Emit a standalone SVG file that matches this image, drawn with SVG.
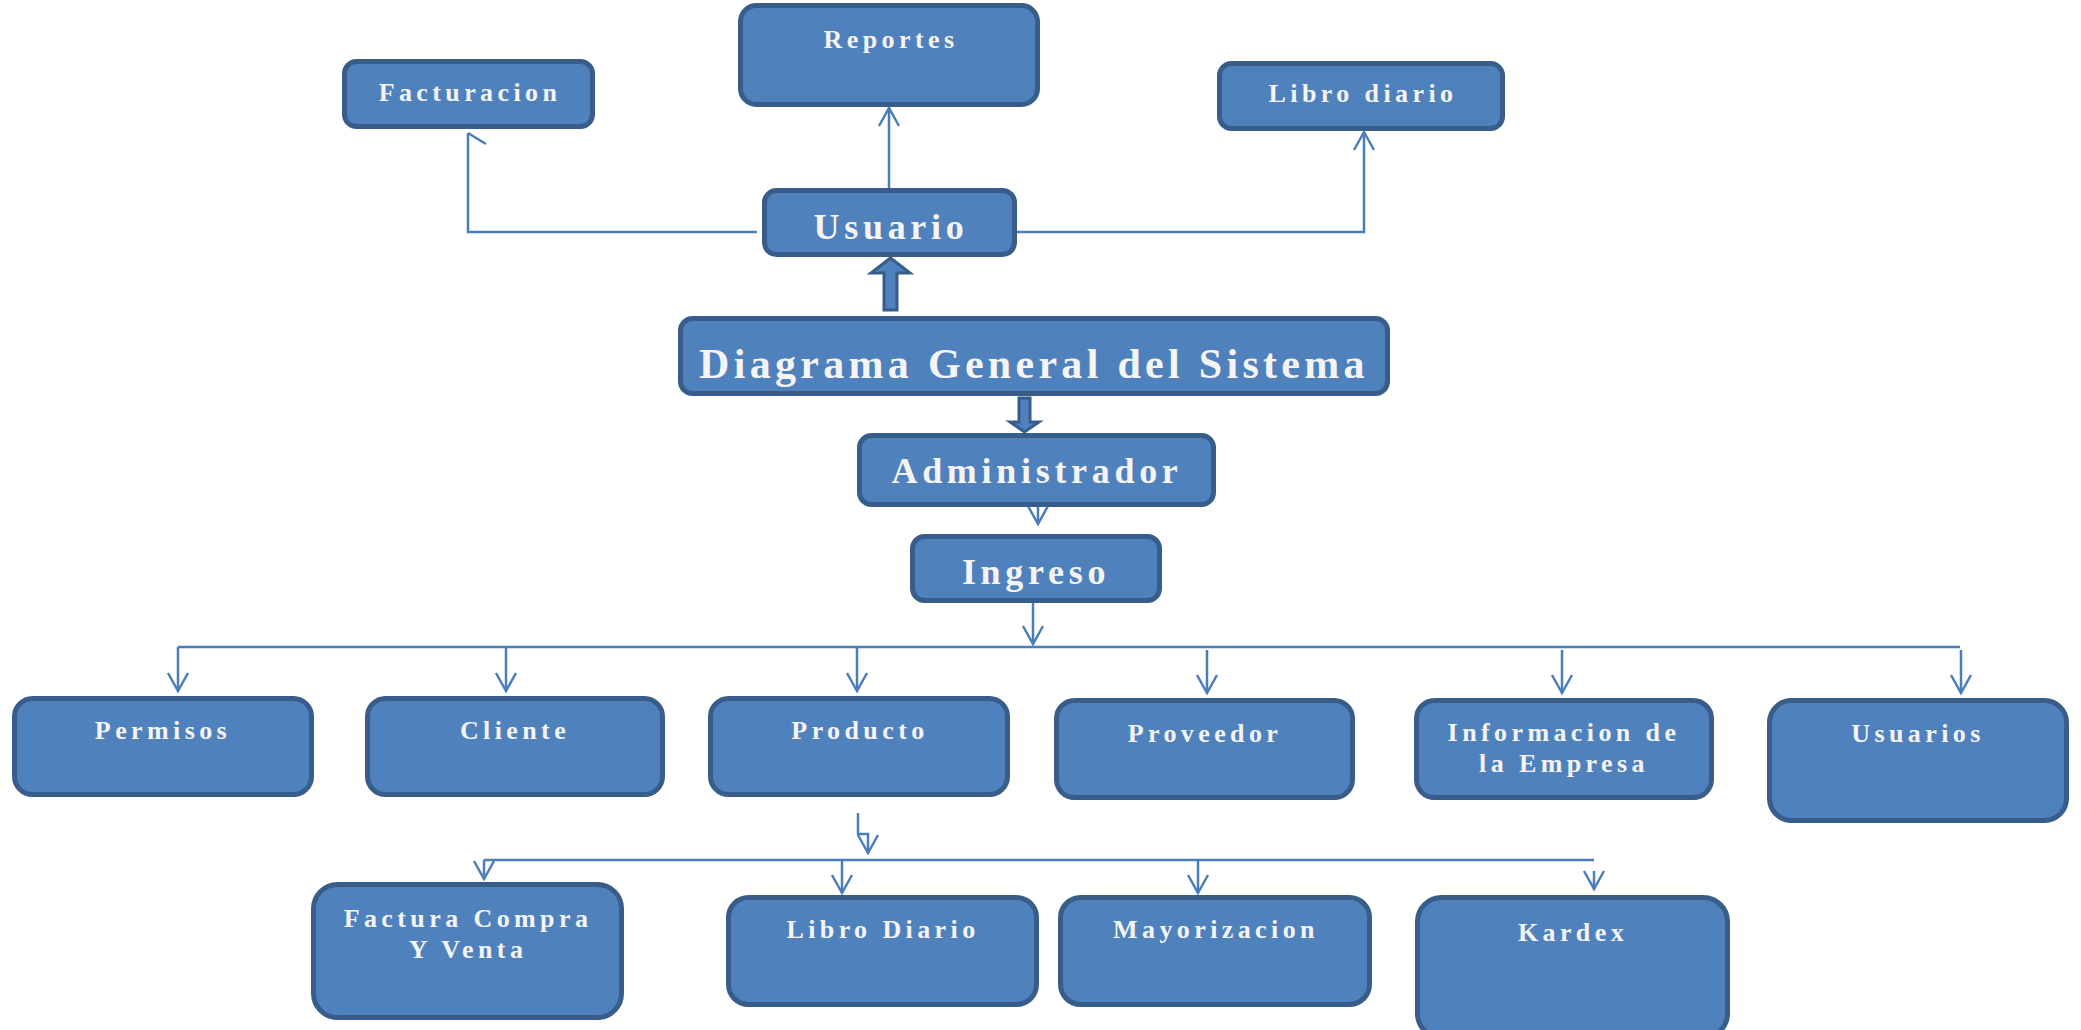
<svg xmlns="http://www.w3.org/2000/svg" width="2081" height="1030" viewBox="0 0 2081 1030">
<style>
.box{fill:#4F81BD;stroke:#385D8A;stroke-width:5}
.blk{fill:#4F81BD;stroke:#385D8A;stroke-width:3;stroke-linejoin:miter}
.t{font-family:"Liberation Serif","Times New Roman",serif;font-weight:bold;fill:#F4F4F4;text-anchor:middle}
.s{font-size:26px;letter-spacing:4.4px}
.m{font-size:36px;letter-spacing:4.7px}
.l{font-size:42px;letter-spacing:4.3px}
.c{fill:none;stroke:#4A7EBB;stroke-width:2.5}
</style>
<defs>
<marker id="ah" markerUnits="userSpaceOnUse" viewBox="-20 -12 22 24" markerWidth="22" markerHeight="24" refX="0" refY="0" orient="auto" overflow="visible">
<path d="M-18,-10 L0,0 L-18,10" fill="none" stroke="#4A7EBB" stroke-width="2.5"/>
</marker>
</defs>
<rect width="2081" height="1030" fill="#FFFFFF"/>
<g id="connectors">
<path class="c" d="M757,232 H468 V133 M468,133 L486,144"/>
<path class="c" d="M889,188 V108" marker-end="url(#ah)"/>
<path class="c" d="M1017,232 H1364 V132" marker-end="url(#ah)"/>
<path class="c" d="M1038,507 V524" marker-end="url(#ah)"/>
<path class="c" d="M1033,603 V644" marker-end="url(#ah)"/>
<path class="c" d="M178,647 H1960"/>
<path class="c" d="M178,647 V691" marker-end="url(#ah)"/>
<path class="c" d="M506,647 V691" marker-end="url(#ah)"/>
<path class="c" d="M857,647 V691" marker-end="url(#ah)"/>
<path class="c" d="M1207,650 V693" marker-end="url(#ah)"/>
<path class="c" d="M1562,650 V693" marker-end="url(#ah)"/>
<path class="c" d="M1961,650 V693" marker-end="url(#ah)"/>
<path class="c" d="M858,813 V834 H868 V853" marker-end="url(#ah)"/>
<path class="c" d="M484,860 H1594"/>
<path class="c" d="M484,860 V879" marker-end="url(#ah)"/>
<path class="c" d="M842,860 V893" marker-end="url(#ah)"/>
<path class="c" d="M1198,860 V893" marker-end="url(#ah)"/>
<path class="c" d="M1594,871 V889" marker-end="url(#ah)"/>
<polygon class="blk" points="884,310 884,273 871,273 890.5,258 910,273 897,273 897,310"/>
<polygon class="blk" points="1019,398 1019,422 1010,422 1024.5,432 1039,422 1030,422 1030,398"/>
</g>
<g id="reportes"><rect class="box" x="740.5" y="5.5" width="297" height="99" rx="16"/><text class="t s" x="891" y="48">Reportes</text></g>
<g id="facturacion"><rect class="box" x="344.5" y="61.5" width="248" height="65" rx="12"/><text class="t s" x="470" y="101">Facturacion</text></g>
<g id="libro-diario-top"><rect class="box" x="1219.5" y="63.5" width="283" height="65" rx="12"/><text class="t s" x="1363" y="102">Libro diario</text></g>
<g id="usuario"><rect class="box" x="764.5" y="190.5" width="250" height="64" rx="12"/><text class="t m" x="891" y="239">Usuario</text></g>
<g id="diagrama"><rect class="box" x="680.5" y="318.5" width="707" height="75" rx="12"/><text class="t l" x="1034" y="378">Diagrama General del Sistema</text></g>
<g id="administrador"><rect class="box" x="859.5" y="435.5" width="354" height="69" rx="12"/><text class="t m" x="1037" y="483">Administrador</text></g>
<g id="ingreso"><rect class="box" x="912.5" y="536.5" width="247" height="64" rx="12"/><text class="t m" x="1036" y="584">Ingreso</text></g>
<g id="permisos"><rect class="box" x="14.5" y="698.5" width="297" height="96" rx="18"/><text class="t s" x="163" y="739">Permisos</text></g>
<g id="cliente"><rect class="box" x="367.5" y="698.5" width="295" height="96" rx="18"/><text class="t s" x="515" y="739">Cliente</text></g>
<g id="producto"><rect class="box" x="710.5" y="698.5" width="297" height="96" rx="18"/><text class="t s" x="860" y="739">Producto</text></g>
<g id="proveedor"><rect class="box" x="1056.5" y="700.5" width="296" height="97" rx="18"/><text class="t s" x="1205" y="742">Proveedor</text></g>
<g id="informacion"><rect class="box" x="1416.5" y="700.5" width="295" height="97" rx="18"/><text class="t s" x="1564" y="741">Informacion de</text><text class="t s" x="1564" y="772">la Empresa</text></g>
<g id="usuarios"><rect class="box" x="1769.5" y="700.5" width="297" height="120" rx="22"/><text class="t s" x="1918" y="742">Usuarios</text></g>
<g id="factura-compra"><rect class="box" x="313.5" y="884.5" width="308" height="133" rx="24"/><text class="t s" x="468" y="927">Factura Compra</text><text class="t s" x="468" y="958">Y Venta</text></g>
<g id="libro-diario"><rect class="box" x="728.5" y="897.5" width="308" height="107" rx="20"/><text class="t s" x="883" y="938">Libro Diario</text></g>
<g id="mayorizacion"><rect class="box" x="1060.5" y="897.5" width="309" height="107" rx="20"/><text class="t s" x="1216" y="938">Mayorizacion</text></g>
<g id="kardex"><rect class="box" x="1417.5" y="897.5" width="310" height="140" rx="24"/><text class="t s" x="1573" y="941">Kardex</text></g>
</svg>
